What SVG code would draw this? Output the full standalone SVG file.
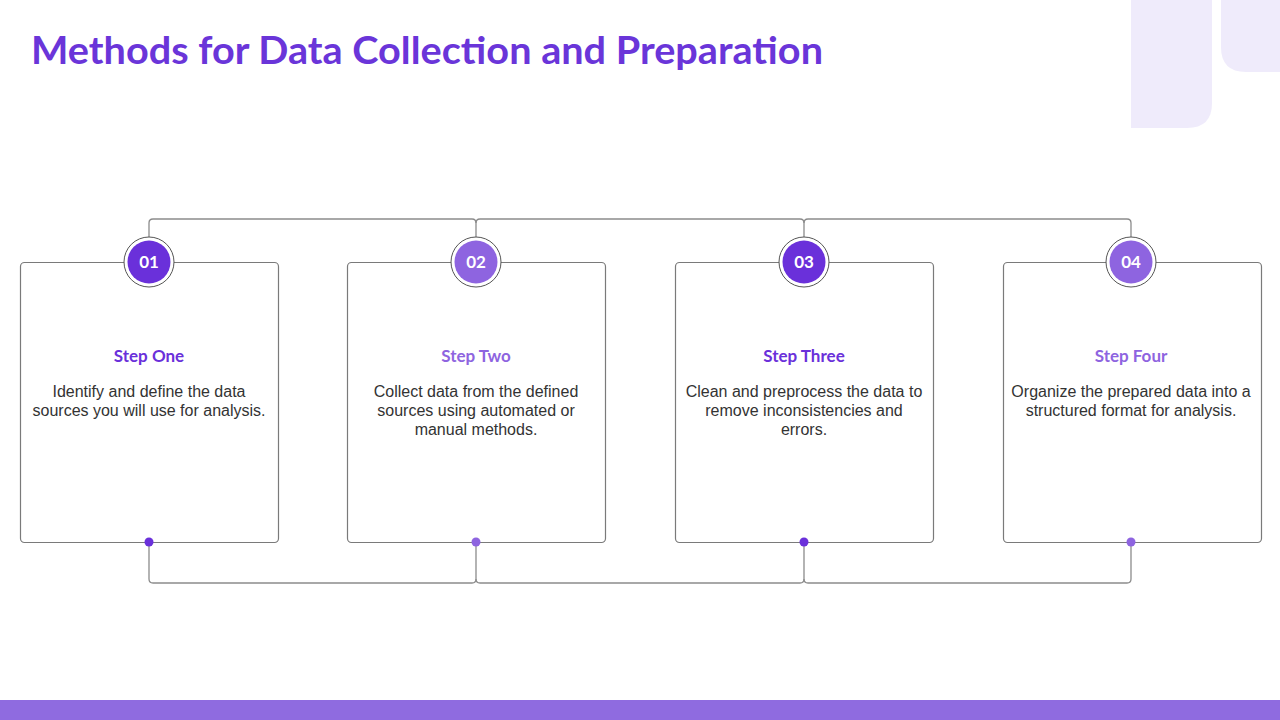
<svg xmlns="http://www.w3.org/2000/svg" width="1280" height="720" viewBox="0 0 1280 720">
<style>
.card{fill:#fff;stroke:#7a7a7a;stroke-width:1.2}
.conn{fill:none;stroke:#8c8c8c;stroke-width:1.3}
.ring{fill:#fff;stroke:#555;stroke-width:1}
.dark{fill:#6A30DA}
.light{fill:#8E64E0}
.num{font-family:Lato,"Open Sans",sans-serif;font-weight:700;font-size:17px;fill:#fff;text-anchor:middle}
.st{font-family:Lato,"Open Sans",sans-serif;font-weight:700;font-size:17px;text-anchor:middle}
.body{font-family:"Liberation Sans",Arial,sans-serif;font-size:16px;fill:#333;text-anchor:middle}
</style>
<rect width="1280" height="720" fill="#fff"/>
<path d="M1131,0 H1212 V103 Q1212,128 1187,128 H1131 Z" fill="#EFEBFB"/>
<path d="M1221,0 H1280 V72 H1246 Q1221,72 1221,47 Z" fill="#EFEBFB"/>
<rect x="0" y="700" width="1280" height="20" fill="#8F6BE0"/>
<text x="31" y="64" font-family="Lato,'Open Sans',sans-serif" font-weight="700" font-size="38" fill="#6A35D9" textLength="792" lengthAdjust="spacingAndGlyphs">Methods for Data Collection and Preparation</text>
<g id="connectors">
<path class="conn" d="M149,237 V223 Q149,219 153,219 H472 Q476,219 476,223 V237"/>
<path class="conn" d="M476,223 Q476,219 480,219 H800 Q804,219 804,223 V237"/>
<path class="conn" d="M804,223 Q804,219 808,219 H1127 Q1131,219 1131,223 V237"/>
<path class="conn" d="M149,542 V579 Q149,583 153,583 H472 Q476,583 476,579 V542"/>
<path class="conn" d="M476,579 Q476,583 480,583 H800 Q804,583 804,579 V542"/>
<path class="conn" d="M804,579 Q804,583 808,583 H1127 Q1131,583 1131,579 V542"/>
</g>
<g id="step1">
<rect class="card" x="20.5" y="262.5" width="258" height="280" rx="4"/>
<circle class="ring" cx="149" cy="262" r="25"/>
<circle class="dark" cx="149" cy="262" r="21.5"/>
<text class="num" x="149" y="268">01</text>
<circle class="dark" cx="149" cy="542" r="4.5"/>
<text class="st" x="149" y="362" fill="#6A30DA">Step One</text>
<text class="body" x="149" y="397">Identify and define the data</text>
<text class="body" x="149" y="416">sources you will use for analysis.</text>
</g>
<g id="step2">
<rect class="card" x="347.5" y="262.5" width="258" height="280" rx="4"/>
<circle class="ring" cx="476" cy="262" r="25"/>
<circle class="light" cx="476" cy="262" r="21.5"/>
<text class="num" x="476" y="268">02</text>
<circle class="light" cx="476" cy="542" r="4.5"/>
<text class="st" x="476" y="362" fill="#8E64E0">Step Two</text>
<text class="body" x="476" y="397">Collect data from the defined</text>
<text class="body" x="476" y="416">sources using automated or</text>
<text class="body" x="476" y="435">manual methods.</text>
</g>
<g id="step3">
<rect class="card" x="675.5" y="262.5" width="258" height="280" rx="4"/>
<circle class="ring" cx="804" cy="262" r="25"/>
<circle class="dark" cx="804" cy="262" r="21.5"/>
<text class="num" x="804" y="268">03</text>
<circle class="dark" cx="804" cy="542" r="4.5"/>
<text class="st" x="804" y="362" fill="#6A30DA">Step Three</text>
<text class="body" x="804" y="397">Clean and preprocess the data to</text>
<text class="body" x="804" y="416">remove inconsistencies and</text>
<text class="body" x="804" y="435">errors.</text>
</g>
<g id="step4">
<rect class="card" x="1003.5" y="262.5" width="258" height="280" rx="4"/>
<circle class="ring" cx="1131" cy="262" r="25"/>
<circle class="light" cx="1131" cy="262" r="21.5"/>
<text class="num" x="1131" y="268">04</text>
<circle class="light" cx="1131" cy="542" r="4.5"/>
<text class="st" x="1131" y="362" fill="#8E64E0">Step Four</text>
<text class="body" x="1131" y="397">Organize the prepared data into a</text>
<text class="body" x="1131" y="416">structured format for analysis.</text>
</g>
</svg>
